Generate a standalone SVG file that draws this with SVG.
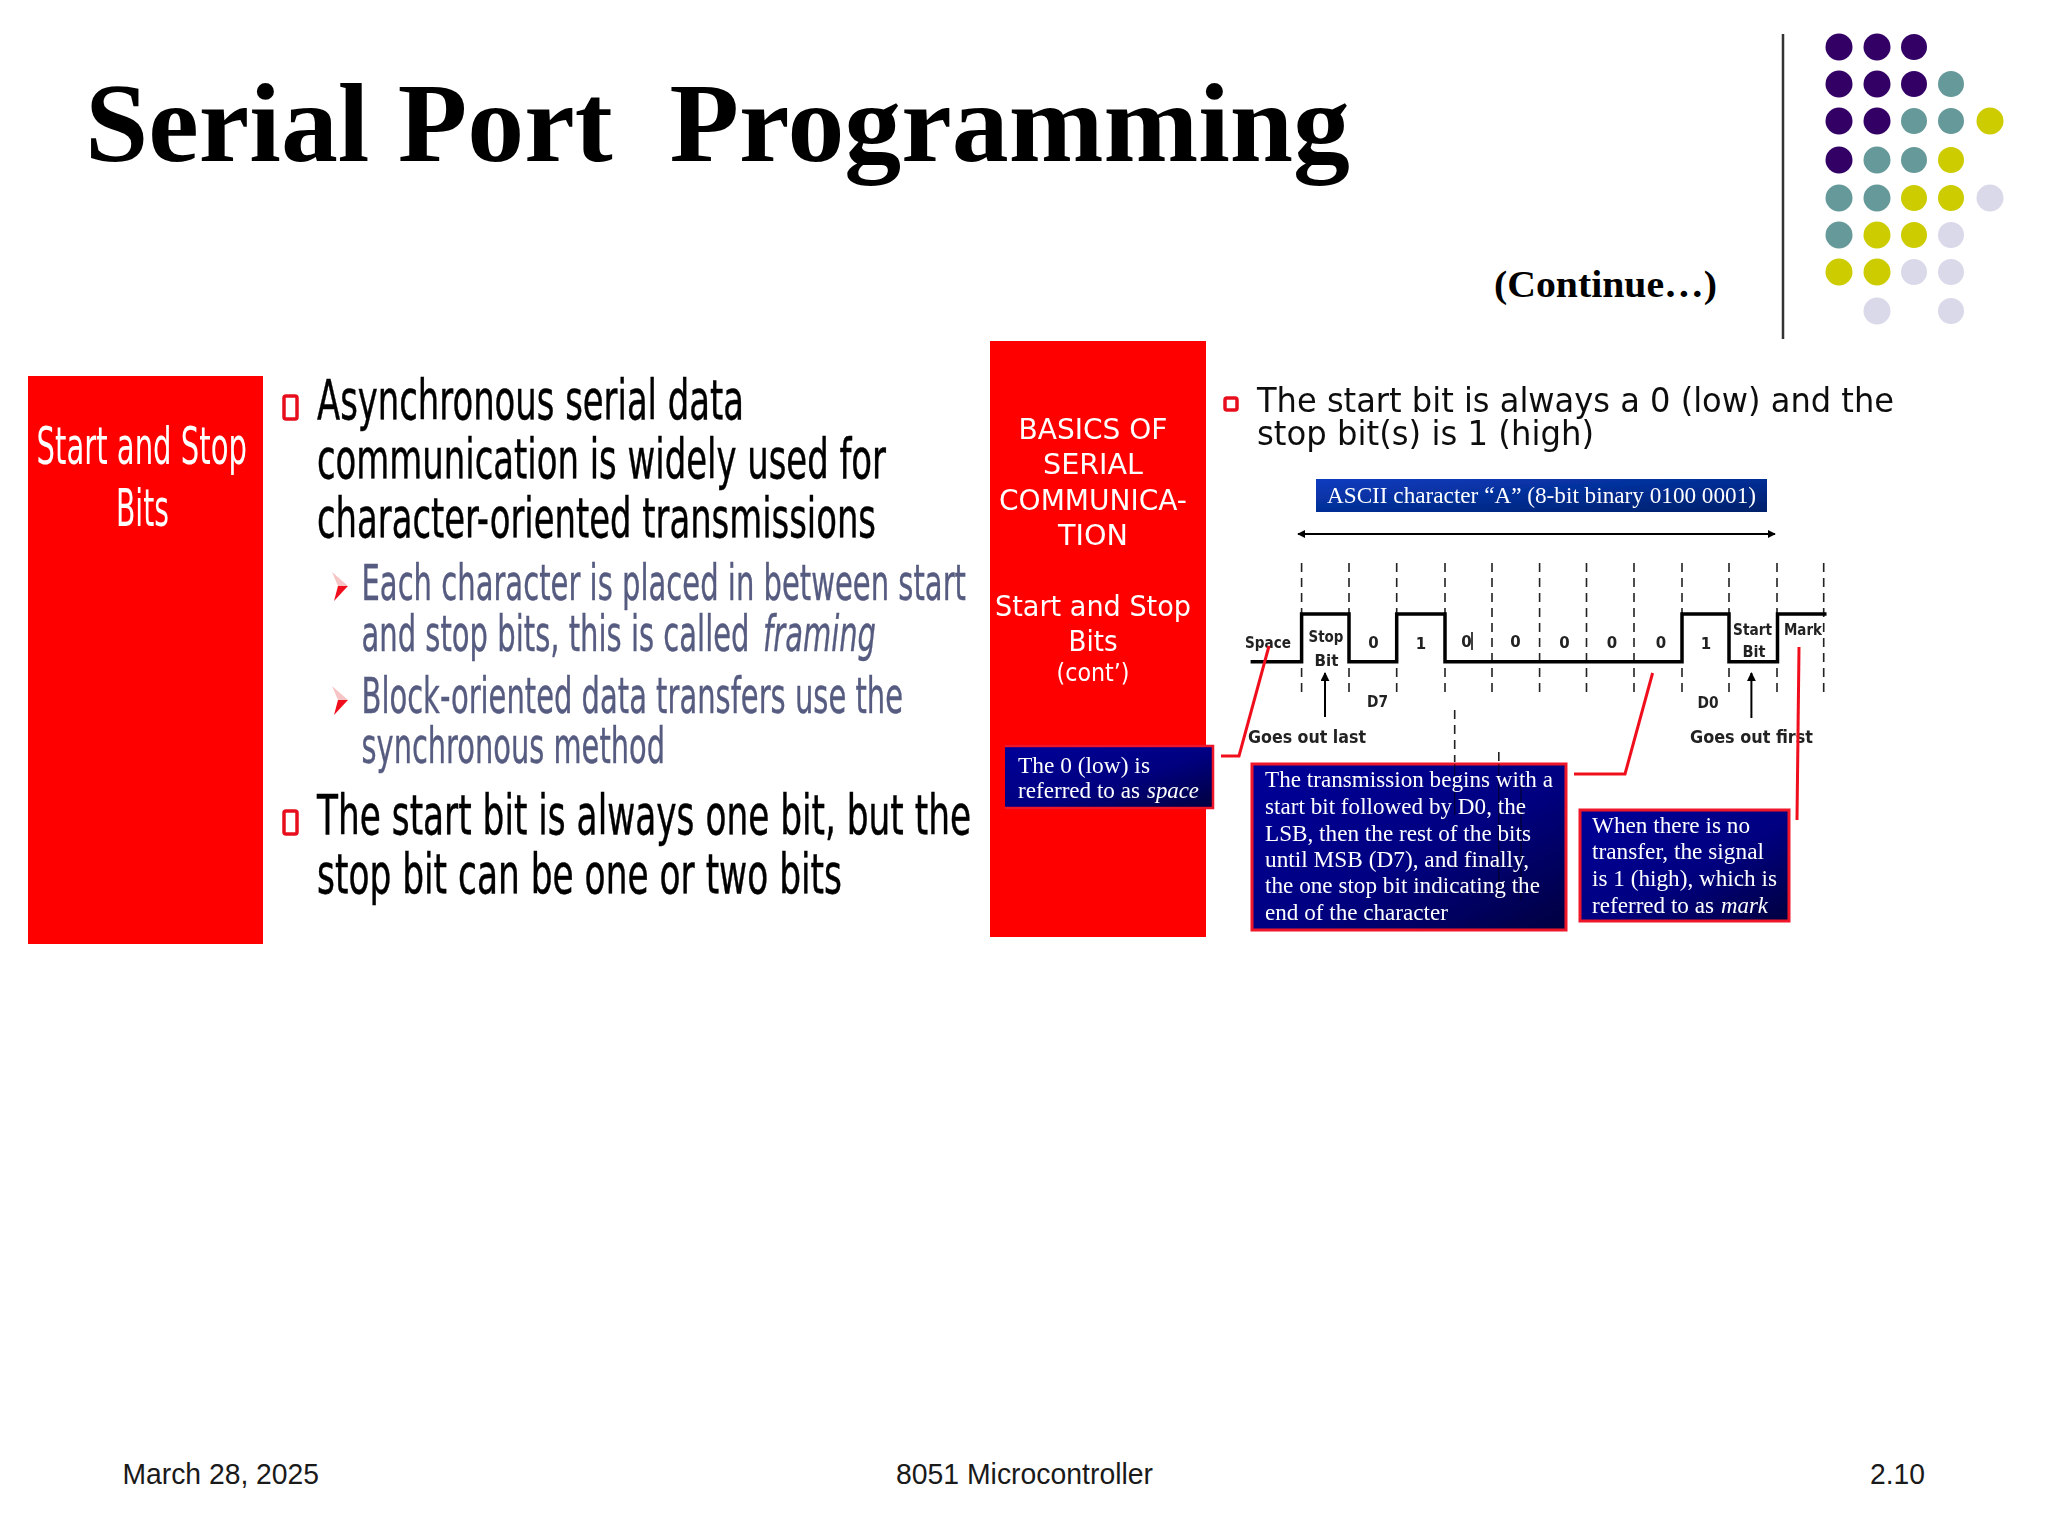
<svg xmlns="http://www.w3.org/2000/svg" width="2048" height="1536" viewBox="0 0 2048 1536">
<style>
.t{font-family:"Liberation Serif","Times New Roman",serif}
.s{font-family:"DejaVu Sans",Verdana,sans-serif}
.a{font-family:"Liberation Sans",Arial,sans-serif;font-size:29px;fill:#1a1a1a}
.b{font-size:55px;fill:#000;stroke:#000;stroke-width:.5}
.c{font-size:50px;fill:#565b80;stroke:#565b80;stroke-width:.4}
.w{fill:#fff}
.r{fill:#fff;font-size:29px;text-anchor:middle}
.n{font-size:22.5px;fill:#fff}
.l{font-size:15px;font-weight:700;fill:#222;text-anchor:middle}
.g{font-size:18px;font-weight:700;fill:#222}
.dash{stroke:#222;stroke-width:1.6;stroke-dasharray:9 6;fill:none}
.red{stroke:#f0101c;stroke-width:3;fill:none}
.sq{fill:#fff;stroke:#e8101c;stroke-width:3.5}
.box{fill:url(#bg);stroke:#f0142a;stroke-width:3}
.P{fill:#330066}.T{fill:#669999}.Y{fill:#cccc00}.L{fill:#d9d9ea}
</style>
<defs>
<linearGradient id="bg" x1="0" y1="0" x2="1" y2="1"><stop offset="0" stop-color="#000099"/><stop offset="0.55" stop-color="#000080"/><stop offset="1" stop-color="#000040"/></linearGradient>
<linearGradient id="ascii" x1="0" y1="0" x2="1" y2="1"><stop offset="0" stop-color="#0a3cc0"/><stop offset="1" stop-color="#00206a"/></linearGradient>
<marker id="ah" viewBox="0 0 10 10" refX="9" refY="5" markerWidth="8" markerHeight="8" markerUnits="userSpaceOnUse" orient="auto-start-reverse"><path d="M0 0L10 5L0 10z" fill="#000"/></marker>
<marker id="ah2" viewBox="0 0 10 10" refX="9" refY="5" markerWidth="9" markerHeight="9" markerUnits="userSpaceOnUse" orient="auto"><path d="M0 0L10 5L0 10z" fill="#000"/></marker>
<g id="chev"><path d="M0 0L16 14L6 14z" fill="#f6c4c4"/><path d="M16 14L2 29L6 14z" fill="#f0101c"/></g>
<filter id="soft" x="-2%" y="-2%" width="104%" height="104%"><feGaussianBlur stdDeviation="0.45"/></filter>
</defs>
<rect width="2048" height="1536" fill="#fff"/>

<g id="title">
<text class="t" x="85" y="160.5" font-size="113" font-weight="700" xml:space="preserve" textLength="1265" lengthAdjust="spacingAndGlyphs">Serial Port  Programming</text>
<text class="t" x="1494" y="297" font-size="37" font-weight="700" textLength="223" lengthAdjust="spacingAndGlyphs">(Continue…)</text>
</g>

<g id="decoration">
<line x1="1783" y1="34" x2="1783" y2="339" stroke="#333" stroke-width="2.5"/>
<circle class="P" cx="1839" cy="47" r="13.5"/><circle class="P" cx="1877" cy="47" r="13.5"/><circle class="P" cx="1914" cy="47" r="13"/>
<circle class="P" cx="1839" cy="84" r="13.5"/><circle class="P" cx="1877" cy="84" r="13.5"/><circle class="P" cx="1914" cy="84" r="13"/><circle class="T" cx="1951" cy="84" r="13"/>
<circle class="P" cx="1839" cy="121" r="13.5"/><circle class="P" cx="1877" cy="121" r="13.5"/><circle class="T" cx="1914" cy="121" r="13"/><circle class="T" cx="1951" cy="121" r="13"/><circle class="Y" cx="1990" cy="121" r="13.5"/>
<circle class="P" cx="1839" cy="160" r="13.5"/><circle class="T" cx="1877" cy="160" r="13.5"/><circle class="T" cx="1914" cy="160" r="13"/><circle class="Y" cx="1951" cy="160" r="13"/>
<circle class="T" cx="1839" cy="198" r="13.5"/><circle class="T" cx="1877" cy="198" r="13.5"/><circle class="Y" cx="1914" cy="198" r="13"/><circle class="Y" cx="1951" cy="198" r="13"/><circle class="L" cx="1990" cy="198" r="13.5"/>
<circle class="T" cx="1839" cy="235" r="13.5"/><circle class="Y" cx="1877" cy="235" r="13.5"/><circle class="Y" cx="1914" cy="235" r="13"/><circle class="L" cx="1951" cy="235" r="13"/>
<circle class="Y" cx="1839" cy="272" r="13.5"/><circle class="Y" cx="1877" cy="272" r="13.5"/><circle class="L" cx="1914" cy="272" r="13"/><circle class="L" cx="1951" cy="272" r="13"/>
<circle class="L" cx="1877" cy="311" r="13.5"/><circle class="L" cx="1951" cy="311" r="13"/>
</g>

<g id="left-panel" filter="url(#soft)">
<rect x="28" y="376" width="235" height="568" fill="#ff0000"/>
<text class="s w" x="36.5" y="464" font-size="52" textLength="210.5" lengthAdjust="spacingAndGlyphs">Start and Stop</text>
<text class="s w" x="116" y="526" font-size="52" textLength="53" lengthAdjust="spacingAndGlyphs">Bits</text>
</g>

<g id="left-text" filter="url(#soft)">
<rect class="sq" x="284" y="396" width="13" height="23" rx="2"/>
<text class="s b" x="317" y="419" textLength="427" lengthAdjust="spacingAndGlyphs">Asynchronous serial data</text>
<text class="s b" x="317" y="478" textLength="569" lengthAdjust="spacingAndGlyphs">communication is widely used for</text>
<text class="s b" x="317" y="537" textLength="559" lengthAdjust="spacingAndGlyphs">character-oriented transmissions</text>
<use href="#chev" x="332" y="572"/>
<text class="s c" x="361.5" y="600" textLength="604.5" lengthAdjust="spacingAndGlyphs">Each character is placed in between start</text>
<text class="s c" x="361.5" y="651" textLength="388" lengthAdjust="spacingAndGlyphs">and stop bits, this is called</text>
<text class="s c" x="763" y="651" font-style="italic" textLength="113" lengthAdjust="spacingAndGlyphs">framing</text>
<use href="#chev" x="332" y="686"/>
<text class="s c" x="361.5" y="713" textLength="541.5" lengthAdjust="spacingAndGlyphs">Block-oriented data transfers use the</text>
<text class="s c" x="361.5" y="763" textLength="303.5" lengthAdjust="spacingAndGlyphs">synchronous method</text>
<rect class="sq" x="284" y="811" width="13" height="23" rx="2"/>
<text class="s b" x="317" y="834" textLength="654" lengthAdjust="spacingAndGlyphs">The start bit is always one bit, but the</text>
<text class="s b" x="317" y="893" textLength="525" lengthAdjust="spacingAndGlyphs">stop bit can be one or two bits</text>
</g>

<g id="right-panel" filter="url(#soft)">
<rect x="990" y="341" width="216" height="596" fill="#ff0000"/>
<text class="s r" x="1093" y="439" textLength="149" lengthAdjust="spacingAndGlyphs">BASICS OF</text>
<text class="s r" x="1093" y="474" textLength="100" lengthAdjust="spacingAndGlyphs">SERIAL</text>
<text class="s r" x="1093" y="510" textLength="188" lengthAdjust="spacingAndGlyphs">COMMUNICA-</text>
<text class="s r" x="1093" y="545" textLength="70" lengthAdjust="spacingAndGlyphs">TION</text>
<text class="s r" x="1093" y="616" textLength="196" lengthAdjust="spacingAndGlyphs">Start and Stop</text>
<text class="s r" x="1093" y="651" textLength="49" lengthAdjust="spacingAndGlyphs">Bits</text>
<text class="s r" x="1093" y="681" style="font-size:25px" textLength="73" lengthAdjust="spacingAndGlyphs">(cont’)</text>
</g>

<g id="right-heading" filter="url(#soft)">
<rect class="sq" x="1225" y="398" width="12" height="12" rx="2"/>
<text class="s" x="1257" y="412" font-size="33" fill="#111" textLength="637" lengthAdjust="spacingAndGlyphs">The start bit is always a 0 (low) and the</text>
<text class="s" x="1257" y="445" font-size="33" fill="#111" textLength="337" lengthAdjust="spacingAndGlyphs">stop bit(s) is 1 (high)</text>
</g>

<g id="ascii-label" filter="url(#soft)">
<rect x="1316" y="479" width="451" height="33" fill="url(#ascii)"/>
<text class="t" x="1327" y="503" font-size="24" fill="#fff" textLength="429" lengthAdjust="spacingAndGlyphs">ASCII character “A” (8-bit binary 0100 0001)</text>
</g>

<g id="connectors" filter="url(#soft)">
<line x1="1298" y1="534" x2="1775" y2="534" stroke="#000" stroke-width="2" marker-start="url(#ah)" marker-end="url(#ah)"/>
<path class="dash" d="M1301.6 563V697M1349 563V697M1396.7 563V697M1445 563V697M1492 563V697M1539.6 563V697M1586.5 563V697M1634 563V697M1682 563V697M1729 563V697M1777 563V697M1823.7 563V697"/>
<path class="dash" d="M1454.7 710V762M1498.8 752V762"/>
<path d="M1250.6 661.7H1301.6V614H1349V661.7H1396.7V614H1445V661.7H1682V614H1729V661.7H1777.5V614H1826.5" fill="none" stroke="#000" stroke-width="3.5"/>
<line x1="1325" y1="717" x2="1325" y2="673" stroke="#000" stroke-width="2" marker-end="url(#ah2)"/>
<line x1="1751.4" y1="718" x2="1751.4" y2="673" stroke="#000" stroke-width="2" marker-end="url(#ah2)"/>
<line x1="1472" y1="632" x2="1472" y2="650" stroke="#000" stroke-width="1.5"/>
</g>

<g id="waveform-labels" filter="url(#soft)">
<text class="s l" x="1268" y="648" textLength="46" lengthAdjust="spacingAndGlyphs">Space</text>
<text class="s l" x="1326" y="642" textLength="35" lengthAdjust="spacingAndGlyphs">Stop</text>
<text class="s l" x="1326.5" y="666" textLength="24" lengthAdjust="spacingAndGlyphs">Bit</text>
<text class="s l" x="1373.5" y="648">0</text>
<text class="s l" x="1421" y="649">1</text>
<text class="s l" x="1466.5" y="647">0</text>
<text class="s l" x="1515.5" y="647">0</text>
<text class="s l" x="1564.5" y="648">0</text>
<text class="s l" x="1612" y="648">0</text>
<text class="s l" x="1661" y="648">0</text>
<text class="s l" x="1706" y="649">1</text>
<text class="s l" x="1752.6" y="635" textLength="39" lengthAdjust="spacingAndGlyphs">Start</text>
<text class="s l" x="1754" y="657" textLength="23" lengthAdjust="spacingAndGlyphs">Bit</text>
<text class="s l" x="1803" y="635" textLength="38" lengthAdjust="spacingAndGlyphs">Mark</text>
<text class="s l" x="1377.5" y="707" textLength="21" lengthAdjust="spacingAndGlyphs">D7</text>
<text class="s l" x="1708" y="708" textLength="21" lengthAdjust="spacingAndGlyphs">D0</text>
<text class="s g" x="1248" y="743" textLength="118" lengthAdjust="spacingAndGlyphs">Goes out last</text>
<text class="s g" x="1690" y="743" textLength="123" lengthAdjust="spacingAndGlyphs">Goes out first</text>
</g>

<g id="note-space" filter="url(#soft)">
<rect x="1005" y="746" width="207" height="62" fill="url(#bg)"/>
<path d="M1005 746H1213V808H1005" fill="none" stroke="#f0142a" stroke-width="2.5"/>
<text class="t n" x="1018" y="773" textLength="132" lengthAdjust="spacingAndGlyphs">The 0 (low) is</text>
<text class="t n" x="1018" y="798" textLength="122" lengthAdjust="spacingAndGlyphs">referred to as</text>
<text class="t n" x="1147" y="798" font-style="italic" textLength="52" lengthAdjust="spacingAndGlyphs">space</text>
</g>

<g id="note-transmission" filter="url(#soft)">
<rect class="box" x="1252" y="764" width="314" height="166"/>
<path d="M1454.7 764V815M1498.8 764V897M1521 780V900" stroke="#000" stroke-opacity=".6" stroke-width="1.2" fill="none"/>
<text class="t n" x="1265" y="787" textLength="288" lengthAdjust="spacingAndGlyphs">The transmission begins with a</text>
<text class="t n" x="1265" y="814" textLength="261" lengthAdjust="spacingAndGlyphs">start bit followed by D0, the</text>
<text class="t n" x="1265" y="841" textLength="266" lengthAdjust="spacingAndGlyphs">LSB, then the rest of the bits</text>
<text class="t n" x="1265" y="867" textLength="264" lengthAdjust="spacingAndGlyphs">until MSB (D7), and finally,</text>
<text class="t n" x="1265" y="893" textLength="275" lengthAdjust="spacingAndGlyphs">the one stop bit indicating the</text>
<text class="t n" x="1265" y="920" textLength="183" lengthAdjust="spacingAndGlyphs">end of the character</text>
</g>

<g id="note-mark" filter="url(#soft)">
<rect class="box" x="1580" y="810" width="209" height="111"/>
<text class="t n" x="1592" y="833" textLength="158" lengthAdjust="spacingAndGlyphs">When there is no</text>
<text class="t n" x="1592" y="859" textLength="172" lengthAdjust="spacingAndGlyphs">transfer, the signal</text>
<text class="t n" x="1592" y="886" textLength="185" lengthAdjust="spacingAndGlyphs">is 1 (high), which is</text>
<text class="t n" x="1592" y="913" textLength="122" lengthAdjust="spacingAndGlyphs">referred to as</text>
<text class="t n" x="1721" y="913" font-style="italic" textLength="47" lengthAdjust="spacingAndGlyphs">mark</text>
</g>

<g id="callouts" filter="url(#soft)">
<path class="red" d="M1221 756H1239L1269 646"/>
<path class="red" d="M1574 774H1625L1652.6 673"/>
<path class="red" d="M1799 647L1797 820"/>
</g>

<g id="footer">
<text class="a" x="122.5" y="1484" textLength="196.5" lengthAdjust="spacingAndGlyphs">March 28, 2025</text>
<text class="a" x="896" y="1484" textLength="257" lengthAdjust="spacingAndGlyphs">8051 Microcontroller</text>
<text class="a" x="1870" y="1484" textLength="55" lengthAdjust="spacingAndGlyphs">2.10</text>
</g>
</svg>
